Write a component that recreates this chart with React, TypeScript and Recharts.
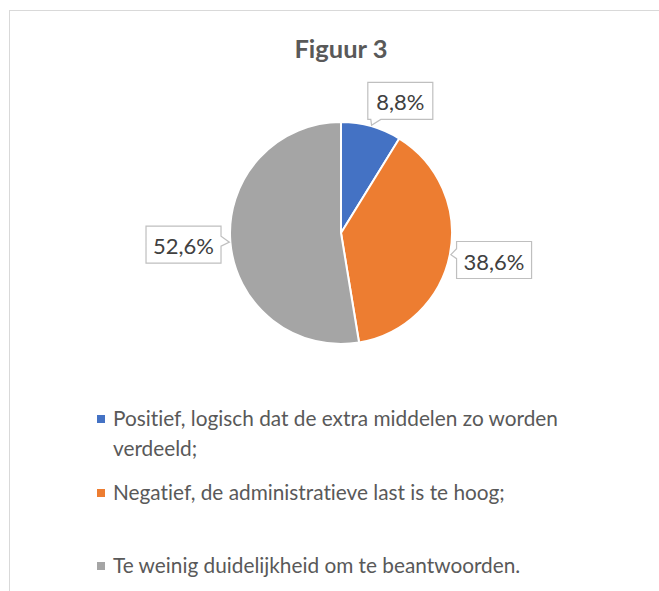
import { Legend, Pie, PieChart } from "recharts";

const categories = [
  "Positief, logisch dat de extra middelen zo worden verdeeld;",
  "Negatief, de administratieve last is te hoog;",
  "Te weinig duidelijkheid om te beantwoorden.",
];
const shares = [8.8, 38.6, 52.6];
const colors = ["#4472C4", "#ED7D31", "#A5A5A5"];

// small nudges of the callout boxes, like Excel's "best fit"
const labelNudge = [
  [17, 17],
  [1, -3],
  [-3, -1],
];

const data = categories.map((name, i) => ({
  name,
  value: shares[i],
  fill: colors[i],
}));

const RADIAN = Math.PI / 180;
const FONT = "Lato, 'Open Sans', sans-serif";

function calloutPath(x0: number, y0: number, w: number, h: number, tx: number, ty: number) {
  const x1 = x0 + w;
  const y1 = y0 + h;
  const outX = tx < x0 ? x0 - tx : tx > x1 ? tx - x1 : 0;
  const outY = ty < y0 ? y0 - ty : ty > y1 ? ty - y1 : 0;
  let side: string;
  if (outY >= outX) side = ty < y0 ? "top" : "bottom";
  else side = tx < x0 ? "left" : "right";
  const base = (lo: number, hi: number, t: number) => {
    const a = Math.min(Math.max(t - 6, lo + 3), hi - 13);
    return [a, a + 10];
  };
  let d = `M${x0},${y0}`;
  if (side === "top") {
    const [a, b] = base(x0, x1, tx);
    d += ` L${a},${y0} L${tx},${ty} L${b},${y0}`;
  }
  d += ` L${x1},${y0}`;
  if (side === "right") {
    const [a, b] = base(y0, y1, ty);
    d += ` L${x1},${a} L${tx},${ty} L${x1},${b}`;
  }
  d += ` L${x1},${y1}`;
  if (side === "bottom") {
    const [a, b] = base(x0, x1, tx);
    d += ` L${b},${y1} L${tx},${ty} L${a},${y1}`;
  }
  d += ` L${x0},${y1}`;
  if (side === "left") {
    const [a, b] = base(y0, y1, ty);
    d += ` L${x0},${b} L${tx},${ty} L${x0},${a}`;
  }
  return d + " Z";
}

function CalloutLabel(props: any) {
  const { cx, cy, midAngle, outerRadius, index, value } = props;
  const cos = Math.cos(-midAngle * RADIAN);
  const sin = Math.sin(-midAngle * RADIAN);
  const tx = cx + (outerRadius + 1) * cos;
  const ty = cy + (outerRadius + 1) * sin;
  const [nx, ny] = labelNudge[index] ?? [0, 0];
  const bx = cx + (outerRadius + 44) * cos + nx;
  const by = cy + (outerRadius + 44) * sin + ny;
  const text = value.toFixed(1).replace(".", ",") + "%";
  const w = 25 + 10 * text.length;
  const h = 37;
  return (
    <g>
      <path
        d={calloutPath(bx - w / 2, by - h / 2, w, h, tx, ty)}
        fill="#ffffff"
        stroke="#bfbfbf"
        strokeWidth={1.2}
      />
      <text
        x={bx}
        y={by + 1}
        textAnchor="middle"
        dominantBaseline="central"
        fill="#404040"
        fontSize={22}
        fontFamily={FONT}
      >
        {text}
      </text>
    </g>
  );
}

function LegendList({ payload }: any) {
  const items = [...(payload ?? [])].sort(
    (a: any, b: any) => categories.indexOf(a.value) - categories.indexOf(b.value),
  );
  return (
    <div
      style={{
        fontFamily: FONT,
        fontSize: 20.8,
        color: "#595959",
        fontVariantLigatures: "none",
      }}
    >
      {items.map((entry: any) => (
        <div key={entry.value} style={{ display: "flex", height: 73.5, lineHeight: "30px" }}>
          <span
            style={{
              display: "inline-block",
              width: 8,
              height: 8,
              marginTop: 12,
              marginRight: 8,
              flex: "none",
              background: entry.color,
            }}
          />
          <span style={{ width: 480 }}>{entry.value}</span>
        </div>
      ))}
    </div>
  );
}

export default function App() {
  return (
    <div
      style={{
        position: "absolute",
        left: 0,
        top: 0,
        width: 659,
        height: 591,
        overflow: "hidden",
        background: "#ffffff",
      }}
    >
      <div
        style={{
          position: "absolute",
          left: 9,
          top: 10,
          width: 670,
          height: 600,
          border: "1px solid #d9d9d9",
        }}
      />
      <div
        style={{
          position: "absolute",
          left: 0,
          width: 682,
          top: 33,
          lineHeight: "30px",
          textAlign: "center",
          fontFamily: FONT,
          fontWeight: 700,
          fontSize: 25.5,
          color: "#595959",
        }}
      >
        Figuur 3
      </div>
      <PieChart
        width={659}
        height={591}
        margin={{ top: 0, right: 0, bottom: 0, left: 0 }}
        style={{ position: "absolute", left: 0, top: 0 }}
      >
        <Pie
          data={data}
          dataKey="value"
          nameKey="name"
          cx={341}
          cy={233}
          outerRadius={111}
          startAngle={90}
          endAngle={-270}
          stroke="#ffffff"
          strokeWidth={2}
          label={CalloutLabel}
          labelLine={false}
          isAnimationActive={false}
        />
        <Legend
          content={<LegendList />}
          wrapperStyle={{ position: "absolute", left: 97, top: 403, width: 540 }}
        />
      </PieChart>
    </div>
  );
}
